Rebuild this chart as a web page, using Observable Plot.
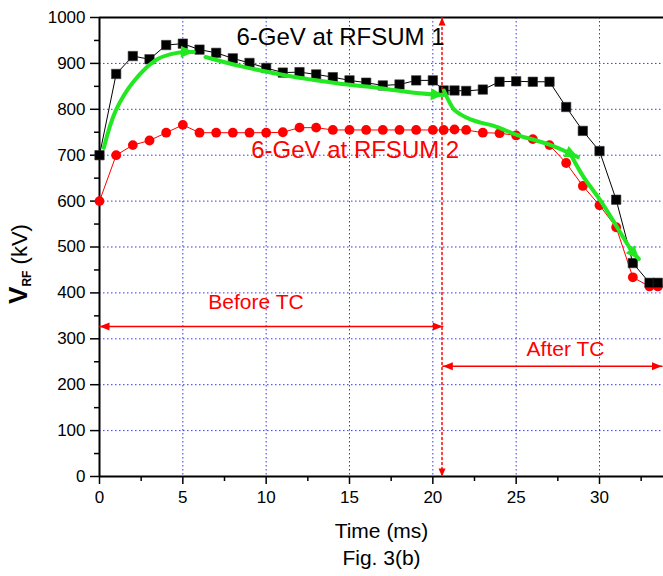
<!DOCTYPE html>
<html>
<head>
<meta charset="utf-8">
<script src="https://cdn.jsdelivr.net/npm/d3@7"></script>
<script src="https://cdn.jsdelivr.net/npm/@observablehq/plot@0.6"></script>
<style>
  html, body { margin: 0; padding: 0; background: #fff; }
  #chart svg { display: block; }
</style>
</head>
<body>
<div id="chart"></div>
<script>
// ---- data ----
const time = [0,1,2,3,4,5,6,7,8,9,10,11,12,13,14,15,16,17,18,19,20,20.65,21.3,22,23,24,25,26,27,28,29,30,31,32,33,33.5];
const rfsum1 = [700,877,916,909,940,943,930,923,911,901,890,880,881,876,870,863,858,852,854,863,863,841,841,840,843,860,861,860,860,805,753,709,603,465,422,422];
const rfsum2 = [600,700,722,732,749,766,749,749,749,749,749,750,760,760,755,755,755,755,755,755,755,755,756,755,749,748,743,735,722,683,633,591,543,434,414,414];

// green trend arrows
const arrow1T = [0.26,0.96,2.06,3.46,4.66,5.66];
const arrow1V = [716,796,861,909,923,925];
const arrow2T = [6.36,8.46,11.46,12.86,14.86,16.86,18.86,20.66];
const arrow2V = [914,894,872,864,854,846,836,831];
const arrow3T = [20.66,20.96,21.26,21.66,22.26,22.86,23.66,25,27,28.7];
const arrow3V = [841,818,800,789,778,771,764,745,723,696];
const arrow4T = [28.3,29.0,30.06,31.06,31.86,32.36];
const arrow4V = [700,655,601,543,496,474];

// red TC markers
const tcTime = 20.55;
const beforeT = [0,20.6];
const beforeV = [327,327];
const afterT = [20.6,33.75];
const afterV = [240,240];

// labels
const seriesLabel = ["6-GeV at RFSUM 1","6-GeV at RFSUM 2"];
const seriesLabelT = [8.22,9.1];
const seriesLabelV = [957,710];
const seriesLabelColor = ["black","#ff0000"];
const tcLabel = ["Before TC","After TC"];
const tcLabelT = [9.39,27.96];
const tcLabelV = [379,277];

const xMajor = [0,5,10,15,20,25,30];
const xMinor = [2.5,7.5,12.5,17.5,22.5,27.5,32.5];
const yMajor = [0,100,200,300,400,500,600,700,800,900,1000];
const yMinor = [50,150,250,350,450,550,650,750,850,950];
const xGrid = [5,10,15,20,25,30];
const yGrid = [100,200,300,400,500,600,700,800,900];

const GREEN = "#22e822";
const RED = "#ff0000";

function triMarker(len, half) {
  return (color) => {
    const ns = "http://www.w3.org/2000/svg";
    const m = document.createElementNS(ns, "marker");
    m.setAttribute("viewBox", `${-len} ${-len} ${2*len} ${2*len}`);
    m.setAttribute("markerUnits", "userSpaceOnUse");
    m.setAttribute("markerWidth", 2*len);
    m.setAttribute("markerHeight", 2*len);
    m.setAttribute("refX", 0);
    m.setAttribute("refY", 0);
    m.setAttribute("orient", "auto-start-reverse");
    m.setAttribute("overflow", "visible");
    const p = document.createElementNS(ns, "path");
    p.setAttribute("d", `M0,0L${-len},${-half}L${-len},${half}Z`);
    p.setAttribute("fill", color);
    p.setAttribute("stroke", "none");
    m.appendChild(p);
    return m;
  };
}

function build(custom) {
  const gHead = custom ? triMarker(13, 6) : "arrow";
  const rHead = custom ? triMarker(10, 4) : "arrow";
  const vHead = custom ? triMarker(8, 3.5) : "arrow";
  const idx = (a) => a.map((_, i) => i);
  const greenArrow = (T, V) => Plot.line(idx(T), {x: T, y: V, stroke: GREEN, strokeWidth: 4, curve: "catmull-rom", markerEnd: gHead});
  return Plot.plot({
    width: 663,
    height: 576,
    marginLeft: 99,
    marginRight: 0,
    marginTop: 17,
    marginBottom: 100,
    style: {fontFamily: "'Liberation Sans', Arial, sans-serif", fontSize: "17px", background: "#fff", overflow: "visible"},
    x: {domain: [0, 33.84]},
    y: {domain: [0, 1000]},
    marks: [
      Plot.gridX({ticks: xGrid, stroke: "#0000ff", strokeOpacity: 0.8, strokeDasharray: "1.5,2.5", strokeWidth: 1}),
      Plot.gridY({ticks: yGrid, stroke: "#0000ff", strokeOpacity: 0.8, strokeDasharray: "1.5,2.5", strokeWidth: 1}),
      Plot.axisX({ticks: xMajor, tickSize: 8, tickPadding: 6, tickFormat: (d) => String(d), fontSize: 17, label: null, strokeWidth: 1.5}),
      Plot.axisX({ticks: xMinor, tickSize: 5, tickFormat: () => "", label: null, strokeWidth: 1.5}),
      Plot.axisY({ticks: yMajor, tickSize: 9, tickPadding: 5, tickFormat: (d) => String(d), fontSize: 17, label: null, strokeWidth: 1.5}),
      Plot.axisY({ticks: yMinor, tickSize: 5, tickFormat: () => "", label: null, strokeWidth: 1.5}),
      Plot.ruleY([1000], {stroke: "black", strokeWidth: 2}),
      Plot.ruleY([0], {stroke: "black", strokeWidth: 2}),
      Plot.ruleX([0], {stroke: "black", strokeWidth: 2}),
      // series
      Plot.line(idx(time), {x: time, y: rfsum2, stroke: RED, strokeWidth: 1}),
      Plot.dot(idx(time), {x: time, y: rfsum2, r: 4.9, fill: RED, stroke: "none"}),
      Plot.line(idx(time), {x: time, y: rfsum1, stroke: "black", strokeWidth: 1}),
      Plot.dot(idx(time), {x: time, y: rfsum1, symbol: "square", r: 5.3, fill: "black", stroke: "#333", strokeWidth: 0.6}),
      // TC markers
      Plot.line([0, 1], {x: [tcTime, tcTime], y: [1000, 0], stroke: RED, strokeWidth: 1.5, strokeDasharray: "2,3", markerStart: vHead, markerEnd: vHead}),
      Plot.line(idx(beforeT), {x: beforeT, y: beforeV, stroke: RED, strokeWidth: 1.5, markerStart: rHead, markerEnd: rHead}),
      Plot.line(idx(afterT), {x: afterT, y: afterV, stroke: RED, strokeWidth: 1.5, markerStart: rHead, markerEnd: rHead}),
      // green trend arrows
      greenArrow(arrow1T, arrow1V),
      greenArrow(arrow2T, arrow2V),
      greenArrow(arrow3T, arrow3V),
      greenArrow(arrow4T, arrow4V),
      // labels
      Plot.text(idx(seriesLabel), {x: seriesLabelT, y: seriesLabelV, text: seriesLabel, fill: seriesLabelColor, textAnchor: "start", fontSize: 24, lineAnchor: "middle"}),
      Plot.text(idx(tcLabel), {x: tcLabelT, y: tcLabelV, text: tcLabel, fill: RED, textAnchor: "middle", fontSize: 21, lineAnchor: "middle"}),
      Plot.text(["Time (ms)"], {frameAnchor: "bottom", dy: 55, text: (d) => d, fontSize: 21, lineAnchor: "middle", fill: "black"}),
      Plot.text(["Fig. 3(b)"], {frameAnchor: "bottom", dy: 82, text: (d) => d, fontSize: 21, lineAnchor: "middle", fill: "black"})
    ]
  });
}

let chart;
try { chart = build(true); } catch (e) { console.warn(e); chart = build(false); }
document.getElementById("chart").appendChild(chart);

// y-axis title with bold V and subscript RF
const svg = d3.select(chart.tagName.toLowerCase() === "svg" ? chart : chart.querySelector("svg"));
const yt = svg.append("text")
  .attr("transform", "translate(27,264) rotate(-90)")
  .attr("text-anchor", "middle")
  .attr("font-family", "'Liberation Sans', Arial, sans-serif")
  .attr("fill", "black");
yt.append("tspan").attr("font-weight", "bold").attr("font-size", 26).text("V");
yt.append("tspan").attr("font-weight", "bold").attr("font-size", 12).attr("dy", 4).text("RF");
yt.append("tspan").attr("font-size", 22).attr("dy", -4).text(" (kV)");
</script>
</body>
</html>
